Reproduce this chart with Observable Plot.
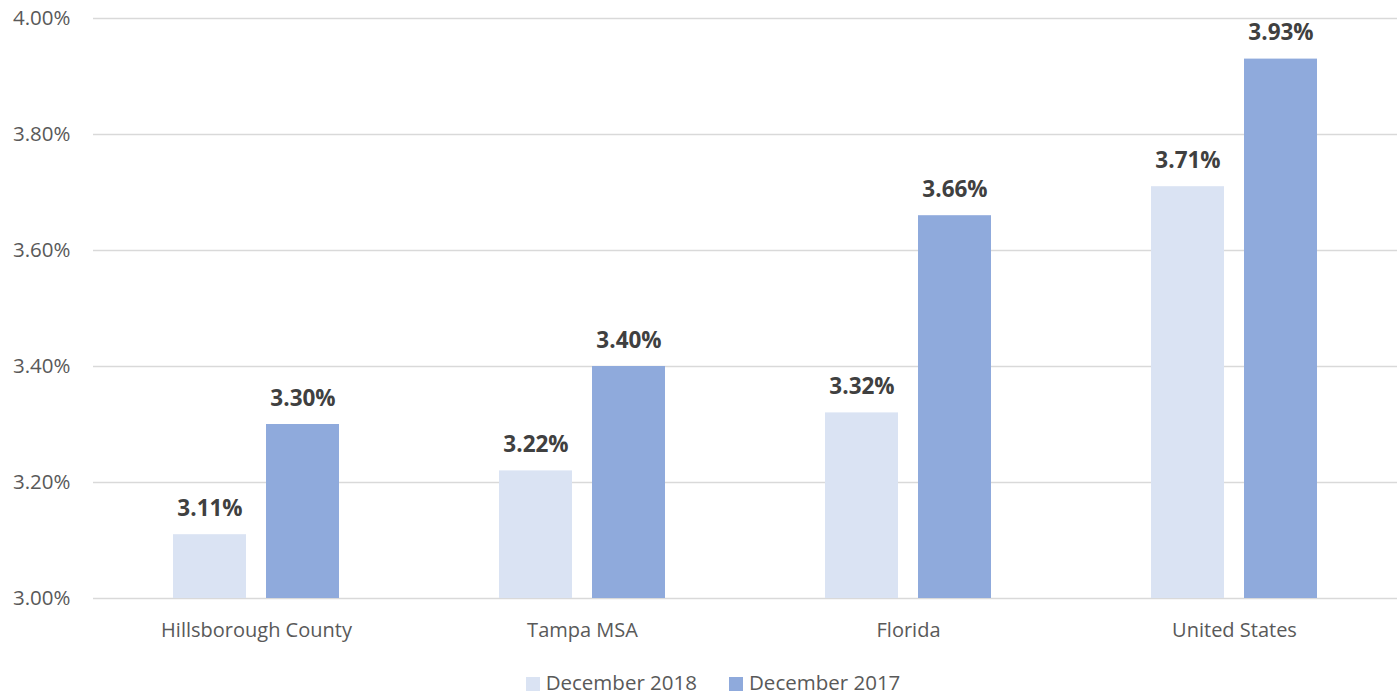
<!DOCTYPE html>
<html>
<head>
<meta charset="utf-8">
<script src="https://cdn.jsdelivr.net/npm/d3@7"></script>
<script src="https://cdn.jsdelivr.net/npm/@observablehq/plot@0.6"></script>
<style>
  html, body { margin: 0; padding: 0; background: #fff; }
  body { width: 1400px; height: 694px; overflow: hidden; font-family: "Open Sans", sans-serif; }
  #legend { display: flex; justify-content: center; gap: 32px; font-size: 20.5px; color: #595959; height: 44px; align-items: center; margin-left: 26px; margin-top: 0px; }
  .sw { display: inline-block; width: 14px; height: 14px; margin-right: 6px; vertical-align: -1px; }
</style>
</head>
<body>
<div id="chart"></div>
<div id="legend"></div>
<script>
const categories = ["Hillsborough County", "Tampa MSA", "Florida", "United States"];
const seriesNames = ["December 2018", "December 2017"];
const dec2018 = [3.11, 3.22, 3.32, 3.71];
const dec2017 = [3.30, 3.40, 3.66, 3.93];
const yTicks = [3.0, 3.2, 3.4, 3.6, 3.8, 4.0];
const colors = ["#dae3f3", "#8faadc"];

const data = [];
categories.forEach((c, i) => {
  data.push({cat: c, series: seriesNames[0], value: dec2018[i]});
  data.push({cat: c, series: seriesNames[1], value: dec2017[i]});
});
const fmt = v => d3.format(".2f")(v) + "%";

const chart = Plot.plot({
  width: 1400,
  height: 660,
  marginTop: 18,
  marginBottom: 62,
  marginLeft: 92,
  marginRight: 2,
  style: {fontFamily: "Open Sans, sans-serif", fontSize: "20px", color: "#595959", background: "#fff", overflow: "visible"},
  fx: {domain: categories, padding: 0, label: null},
  x: {domain: seriesNames, paddingInner: 0.215, paddingOuter: 0.86, axis: null},
  y: {domain: [3, 4], label: null},
  color: {domain: seriesNames, range: colors},
  marks: [
    Plot.ruleY(yTicks, {stroke: "#d9d9d9", strokeWidth: 1.5}),
    Plot.barY(data, {fx: "cat", x: "series", y1: 3, y2: "value", fill: "series"}),
    Plot.text(data, {fx: "cat", x: "series", y: "value", text: d => fmt(d.value), dy: -26, fontWeight: "bold", fontSize: 22.5, fill: "#404040"}),
    Plot.axisY(yTicks, {tickFormat: fmt, tickSize: 0, tickPadding: 23, fontSize: 20.5, fill: "#595959", label: null}),
    Plot.axisFx({anchor: "bottom", tickSize: 0, tickPadding: 24, fontSize: 20, fill: "#595959", label: null})
  ]
});
document.getElementById("chart").appendChild(chart);

const lg = document.getElementById("legend");
seriesNames.forEach((s, i) => {
  const span = document.createElement("span");
  span.innerHTML = `<span class="sw" style="background:${colors[i]}"></span>${s}`;
  lg.appendChild(span);
});
</script>
</body>
</html>
